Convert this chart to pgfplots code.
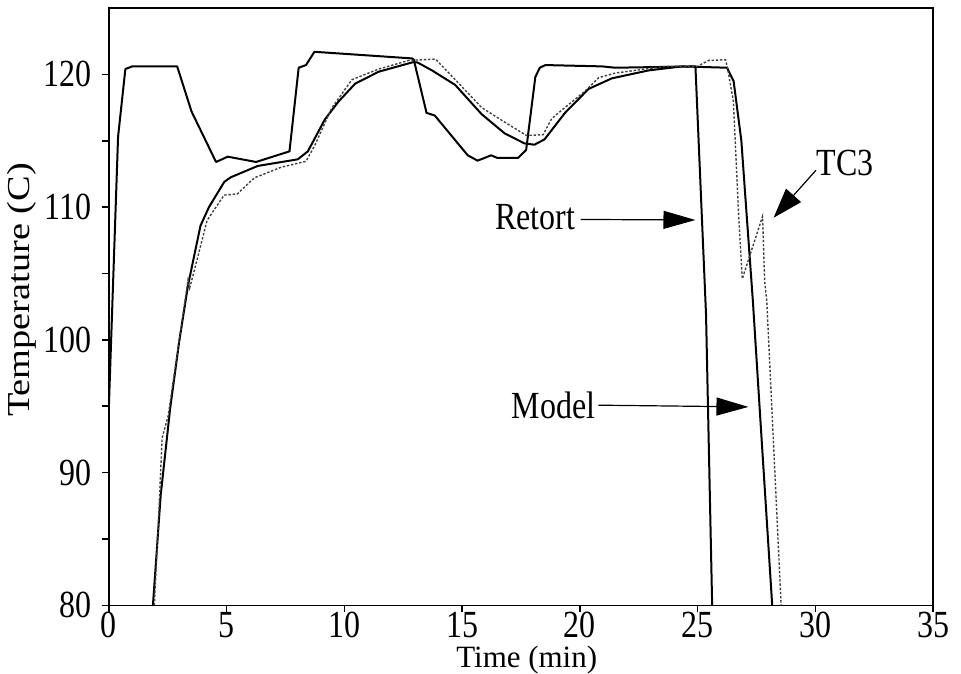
\documentclass[border=0pt]{standalone}
\usepackage{fontspec}
\setmainfont{Liberation Serif}
\usepackage{graphicx}
\usepackage{pgfplots}
\pgfplotsset{compat=1.18}
\usetikzlibrary{arrows.meta}
\newcommand{\st}[1]{\scalebox{1}[1.2]{#1}}
\newcommand{\lf}{\fontsize{16}{19}\selectfont}

\pgfplotstableread{
t T
0.00 95.0
0.39 115.3
0.70 120.4
0.99 120.6
2.90 120.6
3.51 117.2
4.55 113.4
5.05 113.8
6.25 113.4
7.67 114.2
8.06 120.5
8.37 120.7
8.73 121.7
12.88 121.2
12.95 121.1
13.49 117.1
13.84 116.9
15.24 113.9
15.66 113.5
16.23 113.9
16.51 113.7
17.37 113.7
17.72 114.3
18.11 119.8
18.30 120.5
18.54 120.7
20.95 120.6
21.50 120.5
24.91 120.6
25.36 101.9
25.62 80.0
}\retort

\pgfplotstableread{
t T
1.87 80.0
2.20 88.3
2.60 94.8
2.98 99.8
3.36 104.1
3.89 108.6
4.25 110.0
4.90 111.9
5.18 112.25
6.32 113.1
8.02 113.6
8.45 114.2
9.17 116.6
9.75 117.95
10.46 119.3
11.46 120.2
12.88 120.9
13.10 120.9
13.72 120.3
14.71 119.2
15.83 117.0
16.81 115.55
17.65 114.8
18.07 114.7
18.50 115.1
19.37 117.1
20.37 118.9
21.36 119.7
22.93 120.3
24.34 120.6
26.25 120.5
26.53 119.5
26.86 115.0
26.98 112.0
27.35 102.9
27.71 92.8
28.17 80.0
}\model

\pgfplotstableread{
t T
1.93 80.0
2.13 87.3
2.26 92.6
2.52 94.3
3.36 104.5
3.43 103.9
3.58 104.9
4.17 109.0
4.89 110.9
5.46 111.0
6.17 112.2
7.31 113.0
8.37 113.45
8.73 114.6
9.46 117.45
10.32 119.6
11.46 120.4
12.74 121.05
13.87 121.15
14.71 119.6
15.83 117.5
16.81 116.4
17.73 115.4
18.44 115.45
18.80 116.65
19.23 117.3
20.23 118.75
20.80 119.75
21.51 120.1
23.63 120.6
24.98 120.6
25.48 121.05
26.19 121.1
26.26 120.6
26.52 118.0
26.75 109.2
26.90 104.6
27.76 109.3
27.85 104.4
27.94 102.9
28.55 80.0
}\tcthree

\begin{document}
\begin{tikzpicture}
\begin{axis}[
  scale only axis,
  width=412.5pt, height=299pt,
  xmin=0, xmax=35, ymin=80, ymax=125,
  xtick={0,5,...,35},
  ytick={80,90,...,120},
  minor ytick={85,95,...,115},
  tick pos=left,
  tick align=outside,
  major tick length=3.5pt, minor tick length=3.5pt,
  axis line style={line width=0.8pt},
  every tick/.style={black, line width=0.8pt},
  /pgf/number format/assume math mode=true,
  xticklabel={\st{\pgfmathprintnumber{\tick}}},
  yticklabel={\st{\pgfmathprintnumber{\tick}}},
  every tick label/.append style={font=\lf},
  xticklabel style={anchor=center, inner sep=0pt, yshift=-6.5pt},
  yticklabel style={anchor=east, inner sep=0pt, xshift=-5pt},
]
\addplot[black, line width=1pt, line join=round] table[x=t,y=T] {\retort};
\addplot[black, line width=1pt, line join=round] table[x=t,y=T] {\model};
\addplot[black!75, line width=0.7pt, dash pattern=on 1.2pt off 0.9pt] table[x=t,y=T] {\tcthree};

\node[font=\lf] at (axis cs:18.1,109.26) {\st{Retort}};
\draw[line width=0.6pt, -{Triangle[length=16pt,width=9pt]}] (axis cs:20.03,109.07) -- (axis cs:24.91,109.03);
\node[font=\lf] at (axis cs:18.88,95.1) {\st{Model}};
\draw[line width=0.6pt, -{Triangle[length=16pt,width=9pt]}] (axis cs:20.79,95.08) -- (axis cs:27.16,94.95);
\node[font=\lf] at (axis cs:31.26,113.3) {\st{TC3}};
\draw[line width=0.6pt, -{Triangle[length=15pt,width=10pt]}] (axis cs:30.03,112.78) -- (axis cs:28.23,109.2);

\coordinate (ylab) at (rel axis cs:0,0.528);
\coordinate (xlab) at (rel axis cs:0.507,0);
\coordinate (sw) at (rel axis cs:0,0);
\coordinate (ne) at (rel axis cs:1,1);
\end{axis}
\node[rotate=90, font=\lf] at ([xshift=-43.5pt]ylab) {\scalebox{1.2}[1]{Temperature (C)}};
\node[font=\fontsize{15.5}{18}\selectfont, inner sep=0pt] at ([yshift=-27.5pt]xlab) {Time (min)};
\pgfresetboundingbox
\path ([shift={(-54.5pt,-34pt)}]sw) rectangle ([shift={(14pt,4pt)}]ne);
\end{tikzpicture}
\end{document}
